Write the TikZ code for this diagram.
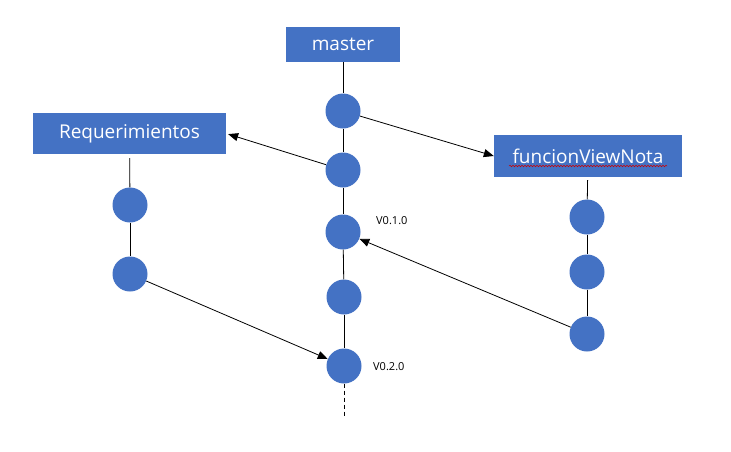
\documentclass[tikz,border=0pt]{standalone}
\usepackage{fontspec}
\setmainfont{Open Sans}
\usetikzlibrary{arrows.meta,decorations.pathmorphing}
\definecolor{officeblue}{HTML}{4472C4}
\begin{document}
\begin{tikzpicture}[x=1pt,y=-1pt,
  branch/.style={fill=officeblue,draw=none,text=white,inner sep=0pt,font=\fontsize{19}{22}\selectfont},
  commit/.style={circle,fill=officeblue,draw=none,minimum size=35pt,inner sep=0pt},
  link/.style={draw=black,line width=0.8pt},
  merge/.style={link,-{Triangle[length=10pt,width=8pt]}},
  tag/.style={font=\fontsize{11}{13}\selectfont,anchor=west,inner sep=0pt}]
\useasboundingbox (0,0) rectangle (731,451);
% branch boxes
\node[branch,minimum width=114pt,minimum height=35pt] (master) at (343,44.5) {master};
\node[branch,minimum width=193pt,minimum height=41pt] (req) at (129.5,133.5) {Requerimientos};
\node[branch,minimum width=188pt,minimum height=42pt] (fvn) at (588,156) {funcionViewNota};
% master commits
\node[commit] (m1) at (343,111) {};
\node[commit] (m2) at (343,170) {};
\node[commit] (m3) at (343,232) {};
\node[commit] (m4) at (344,297) {};
\node[commit] (m5) at (344,366) {};
\coordinate (mend) at (344,416);
% Requerimientos commits
\node[commit] (r1) at (130,205) {};
\node[commit] (r2) at (130,274) {};
% funcionViewNota commits
\node[commit] (f1) at (587,217) {};
\node[commit] (f2) at (587,272) {};
\node[commit] (f3) at (587,334) {};
% tags
\node[tag] (t1) at (376,221) {V0.1.0};
\node[tag] (t2) at (373,367) {V0.2.0};
% vertical links
\draw[link] (master) -- (m1);
\draw[link] (m1) -- (m2);
\draw[link] (m2) -- (m3);
\draw[link] (m3) -- (m4);
\draw[link] (m4) -- (m5);
\draw[link,dashed,dash pattern=on 4pt off 3pt] (m5) -- (mend);
\draw[link,shorten <=4pt] (req) -- (r1);
\draw[link] (r1) -- (r2);
\draw[link,shorten <=3pt] (fvn) -- (f1);
\draw[link] (f1) -- (f2);
\draw[link] (f2) -- (f3);
% branching / merging arrows
\draw[merge,shorten >=2pt] (m2) -- (req.east);
\draw[merge] (m1) -- (fvn.west);
\draw[merge] (f3) -- (m3);
\draw[merge] (r2) -- (m5);
% spell-check squiggle
\draw[red!80!black,line width=0.5pt,decorate,decoration={snake,amplitude=0.8pt,segment length=3pt}] (509,166) -- (667,166);
\end{tikzpicture}
\end{document}
